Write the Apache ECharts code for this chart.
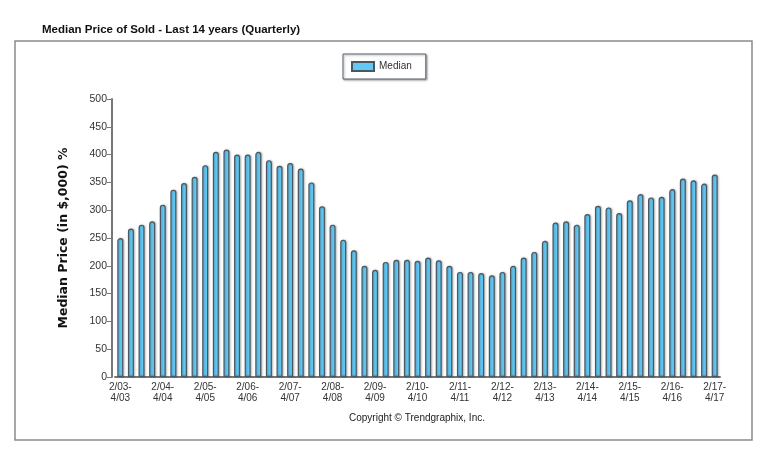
<!DOCTYPE html>
<html>
<head>
<meta charset="utf-8">
<script src="https://cdn.jsdelivr.net/npm/echarts@6/dist/echarts.min.js"></script>
<style>html,body{margin:0;padding:0;background:#fff}#c{width:768px;height:451px}</style>
</head>
<body>
<div id="c"></div>
<script>
const years = ['03','04','05','06','07','08','09','10','11','12','13','14','15','16','17'];
const quarterStarts = ['2','5','8','11'];
const quarterEnds = ['4','7','10','1'];
const categories = [];
years.forEach(function (y, i) {
  quarterStarts.forEach(function (s, q) {
    if (i === years.length - 1 && q > 0) return;
    const endYear = q === 3 ? (years[i + 1] || '18') : y;
    categories.push(s + '/' + y + '-\n' + quarterEnds[q] + '/' + endYear);
  });
});
const medianValues = [
  250, 267, 274, 280, 310, 337, 349, 360, 381, 405,
  409, 400, 400, 405, 390, 380, 385, 375, 350, 307,
  274, 247, 228, 200, 193, 207, 211, 211, 209, 215,
  210, 200, 189, 189, 187, 183, 189, 200, 215, 225,
  245, 278, 280, 274, 293, 308, 305, 295, 318, 329,
  323, 324, 338, 357, 354, 348, 364
];
const yTicks = { min: 0, max: 500, interval: 50 };

const chart = echarts.init(document.getElementById('c'));
chart.setOption({
  animation: false,
  backgroundColor: '#fff',
  title: {
    text: 'Median Price of Sold - Last 14 years (Quarterly)',
    left: 37, top: 19,
    textStyle: { fontFamily: 'Liberation Sans, Arial', fontSize: 11.5, fontWeight: 'bold', color: '#111' }
  },
  graphic: [
    { type: 'rect', shape: { x: 15, y: 41, width: 737, height: 399 },
      style: { fill: 'none', stroke: '#8a8a8a', lineWidth: 1.5 }, z: -10 },
    { type: 'text', x: 417, y: 413,
      style: { text: 'Copyright \u00A9 Trendgraphix, Inc.', textAlign: 'center',
               fontFamily: 'Liberation Sans, Arial', fontSize: 10, fill: '#222' } }
  ],
  legend: {
    data: [{ name: 'Median', icon: 'rect' }],
    left: 343, top: 54,
    itemWidth: 22, itemHeight: 9,
    itemGap: 5,
    padding: [7, 14, 7, 8],
    backgroundColor: '#fff',
    borderColor: '#5a6270', borderWidth: 1,
    shadowColor: 'rgba(0,0,0,0.35)', shadowBlur: 2, shadowOffsetX: 1, shadowOffsetY: 1,
    textStyle: { fontFamily: 'Liberation Sans, Arial', fontSize: 10, color: '#333' }
  },
  grid: { left: 115, right: 48, top: 99, bottom: 74 },
  xAxis: {
    type: 'category',
    data: categories,
    axisLine: { lineStyle: { color: '#777', width: 2 } },
    axisTick: { alignWithLabel: true, interval: 3, length: 5, lineStyle: { color: '#777' } },
    axisLabel: { interval: 3, fontFamily: 'Liberation Sans, Arial', fontSize: 10, color: '#333', lineHeight: 11, margin: 5 }
  },
  yAxis: {
    type: 'value',
    min: yTicks.min, max: yTicks.max, interval: yTicks.interval,
    offset: 3,
    name: 'Median Price (in $,000) %',
    nameLocation: 'middle', nameGap: 42, nameRotate: 90,
    nameTextStyle: { fontFamily: 'DejaVu Sans', fontSize: 12.5, fontWeight: 'bold', color: '#111' },
    axisLine: { show: true, lineStyle: { color: '#777', width: 2 } },
    axisTick: { show: true, length: 5, lineStyle: { color: '#777' } },
    splitLine: { show: false },
    axisLabel: { fontFamily: 'Liberation Sans, Arial', fontSize: 10.5, color: '#333', margin: 5 }
  },
  series: [{
    name: 'Median',
    type: 'bar',
    data: medianValues,
    barWidth: 6,
    itemStyle: {
      color: '#62c9f5',
      borderColor: '#4a5660',
      borderWidth: 1.2,
      borderRadius: [3, 3, 0, 0],
      shadowColor: 'rgba(0,0,0,0.25)', shadowBlur: 2, shadowOffsetX: 1
    }
  }]
});
</script>
</body>
</html>
